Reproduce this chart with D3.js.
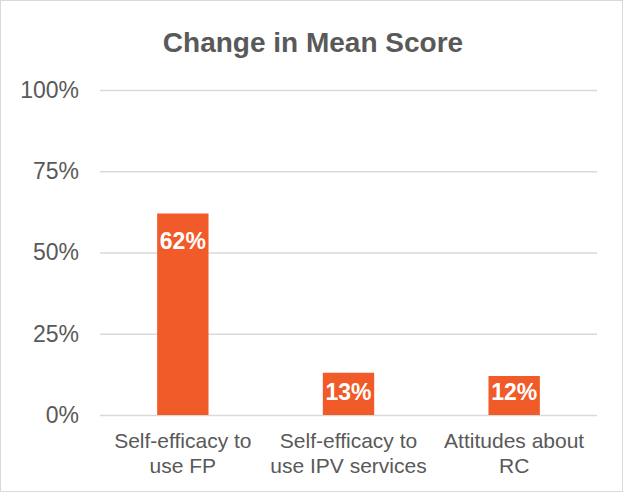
<!DOCTYPE html>
<html><head><meta charset="utf-8">
<script src="https://cdn.jsdelivr.net/npm/d3@7"></script>
<style>body{margin:0;background:#fff}svg{display:block}</style>
</head><body>
<script>
const title = "Change in Mean Score";
const categories = [["Self-efficacy to","use FP"],["Self-efficacy to","use IPV services"],["Attitudes about","RC"]];
const values = [0.62, 0.13, 0.12];
const valueLabels = ["62%","13%","12%"];
const yTicks = [0, 0.25, 0.5, 0.75, 1.0];
const yTickLabels = ["0%","25%","50%","75%","100%"];

const W = 623, H = 492;
const m = {left:100, right:26, top:90, bottom:77};
const svg = d3.select("body").append("svg").attr("width",W).attr("height",H);
svg.append("rect").attr("x",0.5).attr("y",0.5).attr("width",W-1).attr("height",H-1)
  .attr("fill","#fff").attr("stroke","#d9d9d9");

const x = d3.scaleBand().domain(d3.range(values.length)).range([m.left, W-m.right]).paddingInner(0.69).paddingOuter(0.345);
const y = d3.scaleLinear().domain([0,1]).range([H-m.bottom, m.top]);
const font = "'Liberation Sans', Arial, sans-serif";

svg.append("text").attr("x",313).attr("y",52).attr("text-anchor","middle")
  .attr("font-family",font).attr("font-weight","bold").attr("font-size",28).attr("fill","#595959").text(title);

const ya = svg.append("g").attr("transform",`translate(${m.left},0)`)
  .call(d3.axisLeft(y).tickValues(yTicks).tickFormat((d,i)=>yTickLabels[i]).tickSize(-(W-m.left-m.right)).tickPadding(21));
ya.select(".domain").remove();
ya.selectAll("line").attr("stroke","#d9d9d9").attr("stroke-width",1.5);
ya.selectAll("text").attr("font-family",font).attr("font-size",23).attr("fill","#595959");

svg.append("g").selectAll("rect").data(values).join("rect")
  .attr("x",(d,i)=>x(i)).attr("width",x.bandwidth())
  .attr("y",d=>y(d)).attr("height",d=>y(0)-y(d)).attr("fill","#f15a29");

svg.append("g").selectAll("text").data(values).join("text")
  .attr("x",(d,i)=>x(i)+x.bandwidth()/2)
  .attr("y",d=>Math.min(y(d)+35, y(0)-15))
  .attr("text-anchor","middle").attr("font-family",font).attr("font-weight","bold")
  .attr("font-size",23).attr("fill","#fff").text((d,i)=>valueLabels[i]);

const xl = svg.append("g").selectAll("text").data(categories).join("text")
  .attr("text-anchor","middle").attr("font-family",font).attr("font-size",21).attr("fill","#595959");
xl.each(function(lines,i){
  d3.select(this).selectAll("tspan").data(lines).join("tspan")
    .attr("x",x(i)+x.bandwidth()/2).attr("y",(d,j)=>448+j*25).text(d=>d);
});
</script>
</body></html>
